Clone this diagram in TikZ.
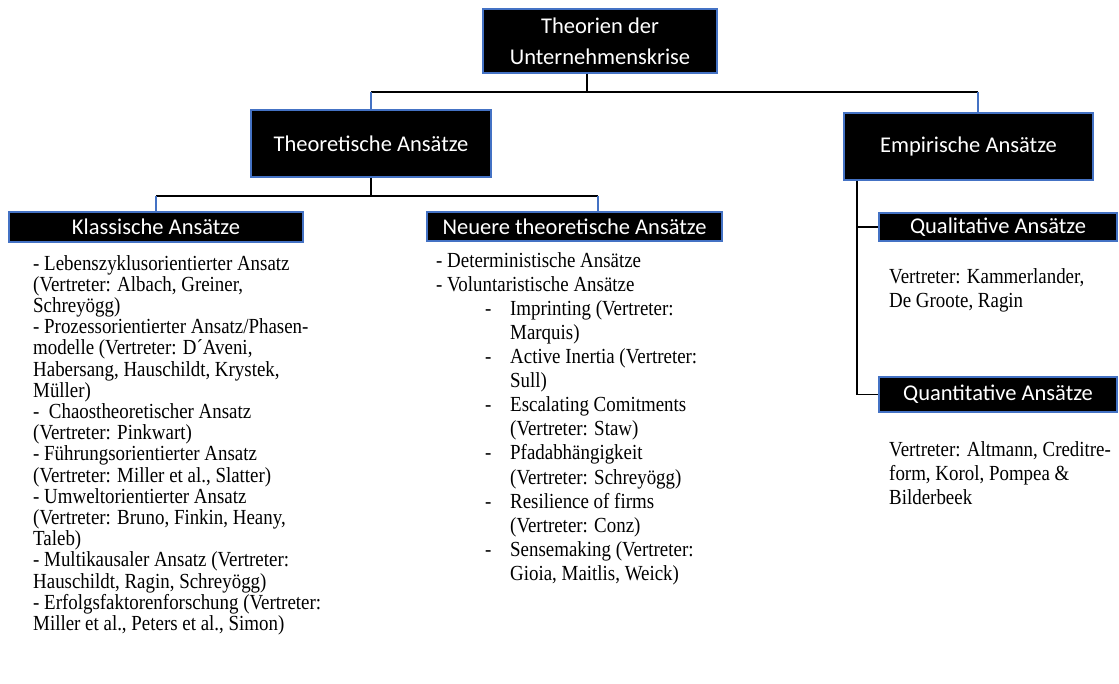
\documentclass[tikz,border=0pt]{standalone}
\usepackage{fontspec}
\setmainfont{Liberation Serif}[FakeStretch=0.88]
\newfontfamily\boxfont{Carlito}
\definecolor{boxblue}{HTML}{4472C4}

\tikzset{
  hbox/.style={draw=boxblue, line width=1.5pt, fill=black, text=white,
    font=\boxfont\fontsize{22.5}{31}\selectfont, inner sep=0pt, align=center},
  conn/.style={line width=1.5pt, black},
  bconn/.style={line width=1.5pt, boxblue},
  txtl/.style={anchor=north west, inner sep=0pt, align=left,
    font=\fontsize{21.5}{21.2}\selectfont},
  txtr/.style={anchor=north west, inner sep=0pt, align=left,
    font=\fontsize{21.5}{24.1}\selectfont},
}

\begin{document}
\begin{tikzpicture}[x=1pt,y=-1pt]
\useasboundingbox (0,0) rectangle (1119,684);

% Kaesten
\node[hbox, minimum width=234pt, minimum height=64pt] (top) at (600,41) {Theorien der\\Unternehmenskrise};
\node[hbox, minimum width=240pt, minimum height=67pt] (theo) at (371,143.5) {Theoretische Ansätze};
\node[hbox, minimum width=249pt, minimum height=67pt] (emp) at (968.5,146.5) {Empirische Ansätze};
\node[hbox, minimum width=294pt, minimum height=30pt] (klass) at (156,227) {Klassische Ansätze};
\node[hbox, minimum width=295pt, minimum height=29pt] (neu) at (574.5,226.5) {Neuere theoretische Ansätze};
\node[hbox, minimum width=238pt, minimum height=28pt] (qual) at (998,227) {Qualitative Ansätze};
\node[hbox, minimum width=238pt, minimum height=35pt] (quant) at (998,394.5) {Quantitative Ansätze};

% Verbindungen oben
\coordinate (j0) at (587,92);
\coordinate (empin) at (emp.north -| 978,0);
\draw[conn] (top.south -| j0) -- (j0);
\draw[conn] (theo.north |- j0) -- (empin |- j0);
\draw[bconn] (theo.north |- j0) -- (theo.north);
\draw[bconn] (empin |- j0) -- (empin);

% Verbindungen theoretisch
\coordinate (j1) at (371,196);
\coordinate (neuin) at (neu.north -| 598,0);
\draw[conn] (theo.south) -- (j1);
\draw[conn] (klass.north |- j1) -- (neuin |- j1);
\draw[bconn] (klass.north |- j1) -- (klass.north);
\draw[bconn] (neuin |- j1) -- (neuin);

% Verbindungen empirisch
\coordinate (e0) at (emp.south -| 857,0);
\draw[conn] (e0) |- (quant.west);
\draw[conn] (e0 |- qual.west) -- (qual.west);

% Texte
\node[txtl] (klasstxt) at (33,255) {- Lebenszyklusorientierter Ansatz\\
(Vertreter: Albach, Greiner,\\
Schreyögg)\\
- Prozessorientierter Ansatz/Phasen-\\
modelle (Vertreter: D´Aveni,\\
Habersang, Hauschildt, Krystek,\\
Müller)\\
-\ \ Chaostheoretischer Ansatz\\
(Vertreter: Pinkwart)\\
- Führungsorientierter Ansatz\\
(Vertreter: Miller et al., Slatter)\\
- Umweltorientierter Ansatz\\
(Vertreter: Bruno, Finkin, Heany,\\
Taleb)\\
- Multikausaler Ansatz (Vertreter:\\
Hauschildt, Ragin, Schreyögg)\\
- Erfolgsfaktorenforschung (Vertreter:\\
Miller et al., Peters et al., Simon)};

\node[txtr] (neutxt) at (436,252) {- Deterministische Ansätze\\
- Voluntaristische Ansätze\\
\hspace*{49pt}\makebox[25pt][l]{-}Imprinting (Vertreter:\\
\hspace*{74pt}Marquis)\\
\hspace*{49pt}\makebox[25pt][l]{-}Active Inertia (Vertreter:\\
\hspace*{74pt}Sull)\\
\hspace*{49pt}\makebox[25pt][l]{-}Escalating Comitments\\
\hspace*{74pt}(Vertreter: Staw)\\
\hspace*{49pt}\makebox[25pt][l]{-}Pfadabhängigkeit\\
\hspace*{74pt}(Vertreter: Schreyögg)\\
\hspace*{49pt}\makebox[25pt][l]{-}Resilience of firms\\
\hspace*{74pt}(Vertreter: Conz)\\
\hspace*{49pt}\makebox[25pt][l]{-}Sensemaking (Vertreter:\\
\hspace*{74pt}Gioia, Maitlis, Weick)};

\node[txtr] (qualtxt) at (889,268) {Vertreter: Kammerlander,\\De Groote, Ragin};
\node[txtr] (quanttxt) at (889,441) {Vertreter: Altmann, Creditre-\\form, Korol, Pompea \&\\Bilderbeek};
\end{tikzpicture}
\end{document}
